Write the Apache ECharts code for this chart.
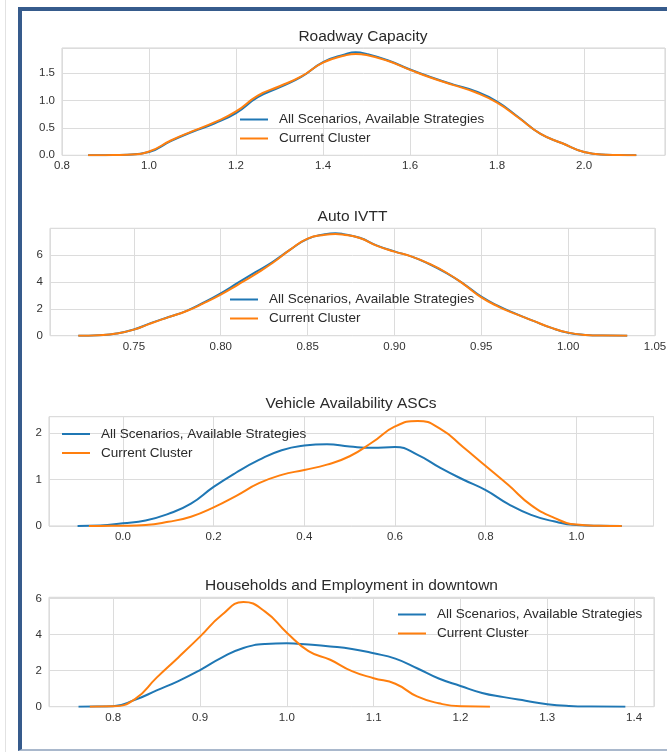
<!DOCTYPE html>
<html>
<head>
<meta charset="utf-8">
<title>Scenario density plots</title>
<script src="https://cdn.jsdelivr.net/npm/echarts@6.0.0/dist/echarts.min.js"></script>
<style>
  html, body { margin: 0; padding: 0; background: #ffffff; overflow: hidden; }
  #sideLine { position: absolute; left: 5px; top: 0; width: 1px; height: 752px; background: #e2e2e2; }
  #frame {
    position: absolute; left: 18px; top: 7px; width: 700px; height: 738px;
    border-left: 4px solid #365b8c; border-top: 4px solid #365b8c;
    border-bottom: 2px solid #a9b8cc; background: #ffffff;
  }
  #chart { position: absolute; left: 0; top: 0; width: 667px; height: 752px; }
</style>
</head>
<body>
<div id="sideLine"></div>
<div id="frame"></div>
<div id="chart"></div>
<script>
// Kernel density estimates, one panel per parameter.
const seriesNames = ['All Scenarios, Available Strategies', 'Current Cluster'];
const panelTitles = ['Roadway Capacity', 'Auto IVTT', 'Vehicle Availability ASCs', 'Households and Employment in downtown'];

// Roadway Capacity
const rcX   = [0.86, 0.90, 0.95, 1.00, 1.05, 1.10, 1.15, 1.20, 1.25, 1.30, 1.35, 1.40, 1.45, 1.475, 1.50, 1.55, 1.60, 1.65, 1.70, 1.75, 1.80, 1.85, 1.90, 1.95, 2.00, 2.05, 2.10, 2.12];
const rcAll = [0, 0.002, 0.01, 0.06, 0.26, 0.43, 0.58, 0.77, 1.06, 1.24, 1.43, 1.70, 1.84, 1.88, 1.85, 1.73, 1.565, 1.42, 1.29, 1.17, 0.98, 0.69, 0.39, 0.22, 0.06, 0.01, 0.002, 0];
const rcCur = [0, 0.002, 0.01, 0.07, 0.27, 0.44, 0.60, 0.80, 1.09, 1.26, 1.44, 1.69, 1.82, 1.85, 1.83, 1.72, 1.56, 1.41, 1.28, 1.15, 0.96, 0.68, 0.39, 0.22, 0.06, 0.01, 0.002, 0];

// Auto IVTT
const ivX   = [0.718, 0.73, 0.74, 0.75, 0.76, 0.77, 0.78, 0.79, 0.80, 0.81, 0.82, 0.83, 0.84, 0.85, 0.86, 0.866, 0.87, 0.88, 0.89, 0.90, 0.91, 0.92, 0.93, 0.94, 0.95, 0.96, 0.97, 0.98, 0.99, 1.00, 1.01, 1.02, 1.034];
const ivAll = [0, 0.04, 0.16, 0.46, 0.95, 1.39, 1.83, 2.45, 3.15, 3.94, 4.72, 5.50, 6.40, 7.20, 7.54, 7.62, 7.57, 7.28, 6.70, 6.27, 5.88, 5.33, 4.65, 3.84, 2.90, 2.20, 1.62, 1.10, 0.60, 0.22, 0.06, 0.01, 0];
const ivCur = [0, 0.04, 0.16, 0.45, 0.93, 1.38, 1.82, 2.40, 3.05, 3.80, 4.58, 5.42, 6.40, 7.22, 7.50, 7.56, 7.52, 7.26, 6.68, 6.25, 5.88, 5.35, 4.68, 3.82, 2.85, 2.15, 1.60, 1.10, 0.60, 0.23, 0.06, 0.01, 0];

// Vehicle Availability ASCs
const vaAllX = [-0.10, -0.05, 0.00, 0.05, 0.10, 0.15, 0.20, 0.25, 0.30, 0.35, 0.40, 0.45, 0.50, 0.55, 0.60, 0.65, 0.70, 0.75, 0.80, 0.85, 0.90, 0.95, 1.00, 1.05, 1.10];
const vaAll  = [0, 0.01, 0.06, 0.12, 0.26, 0.48, 0.84, 1.15, 1.42, 1.63, 1.73, 1.76, 1.71, 1.68, 1.70, 1.53, 1.25, 1.00, 0.77, 0.47, 0.24, 0.10, 0.02, 0.003, 0];
const vaCurX = [-0.075, -0.05, 0.00, 0.05, 0.10, 0.15, 0.20, 0.25, 0.30, 0.35, 0.40, 0.45, 0.50, 0.55, 0.60, 0.65, 0.70, 0.75, 0.80, 0.85, 0.90, 0.95, 1.00, 1.05, 1.10];
const vaCur  = [0, 0.002, 0.005, 0.02, 0.09, 0.20, 0.40, 0.65, 0.92, 1.10, 1.205, 1.32, 1.50, 1.80, 2.14, 2.26, 2.09, 1.70, 1.29, 0.88, 0.45, 0.18, 0.03, 0.005, 0];

// Households and Employment in downtown
const heAllX = [0.76, 0.78, 0.80, 0.825, 0.85, 0.875, 0.90, 0.925, 0.95, 0.975, 1.00, 1.025, 1.05, 1.075, 1.10, 1.125, 1.15, 1.175, 1.20, 1.225, 1.25, 1.275, 1.30, 1.325, 1.35, 1.39];
const heAll  = [0, 0.005, 0.03, 0.38, 0.90, 1.42, 2.03, 2.72, 3.25, 3.47, 3.51, 3.44, 3.34, 3.20, 2.96, 2.66, 2.13, 1.56, 1.15, 0.76, 0.53, 0.33, 0.14, 0.04, 0.008, 0];
const heCurX = [0.773, 0.80, 0.825, 0.85, 0.875, 0.90, 0.925, 0.95, 0.975, 1.00, 1.025, 1.05, 1.075, 1.10, 1.125, 1.15, 1.175, 1.20, 1.234];
const heCur  = [0, 0.02, 0.42, 1.61, 2.73, 3.88, 5.08, 5.80, 5.27, 4.10, 3.08, 2.60, 1.97, 1.58, 1.27, 0.57, 0.19, 0.02, 0];

const FONT = '"Liberation Sans", Arial, sans-serif';
const BLUE = '#1f77b4';
const ORANGE = '#ff7f0e';

function pairs(xs, ys) { return xs.map((x, i) => [x, ys[i]]); }

// label only the round tick values; axis extents stay unlabeled
function tickFormatter(step, digits) {
  return function (v) {
    const k = v / step;
    return Math.abs(k - Math.round(k)) < 1e-6 ? v.toFixed(digits) : '';
  };
}

const panels = [
  { grid: { left: 62, top: 48, width: 603, height: 107.3 },
    x: { min: 0.8, max: 2.186, step: 0.2, digits: 1 },
    y: { max: 1.958, step: 0.5, digits: 1 },
    title: { left: 363, top: 28.5 }, legend: { left: 240, top: 112 },
    all: pairs(rcX, rcAll), cur: pairs(rcX, rcCur) },
  { grid: { left: 50, top: 228.3, width: 605, height: 107.4 },
    x: { min: 0.7017, max: 1.05, step: 0.05, digits: 2 },
    y: { max: 7.985, step: 2, digits: 0 },
    title: { left: 352.5, top: 208.5 }, legend: { left: 230, top: 292 },
    all: pairs(ivX, ivAll), cur: pairs(ivX, ivCur) },
  { grid: { left: 49, top: 416.7, width: 604.5, height: 109.3 },
    x: { min: -0.163, max: 1.17, step: 0.2, digits: 1 },
    y: { max: 2.35, step: 1, digits: 0 },
    title: { left: 351, top: 396 }, legend: { left: 62, top: 426.5 },
    all: pairs(vaAllX, vaAll), cur: pairs(vaCurX, vaCur) },
  { grid: { left: 49, top: 597.3, width: 605, height: 109.4 },
    x: { min: 0.726, max: 1.423, step: 0.1, digits: 1 },
    y: { max: 6.06, step: 2, digits: 0 },
    title: { left: 351.5, top: 577.5 }, legend: { left: 398, top: 607 },
    all: pairs(heAllX, heAll), cur: pairs(heCurX, heCur) }
];

const option = {
  animation: false,
  backgroundColor: 'transparent',
  title: [], legend: [], grid: [], xAxis: [], yAxis: [], series: []
};

panels.forEach((p, i) => {
  option.title.push({
    text: panelTitles[i], left: p.title.left, top: p.title.top, textAlign: 'center', padding: 0,
    textStyle: { fontFamily: FONT, fontSize: 15.5, fontWeight: 'normal', color: '#2a2a2a' }
  });
  option.legend.push({
    data: seriesNames, orient: 'vertical', left: p.legend.left, top: p.legend.top, padding: 0,
    icon: 'rect', itemWidth: 28, itemHeight: 2, itemGap: 4,
    textStyle: { fontFamily: FONT, fontSize: 13.5, color: '#2a2a2a', lineHeight: 15, padding: [0, 0, 0, 6] }
  });
  option.grid.push(Object.assign({
    show: true, borderColor: '#d2d2d2', borderWidth: 1, backgroundColor: 'transparent',
    containLabel: false, outerBoundsMode: 'none'
  }, p.grid));
  const axisText = { fontFamily: FONT, fontSize: 11.5, color: '#333333' };
  option.xAxis.push({
    type: 'value', gridIndex: i, min: p.x.min, max: p.x.max, splitNumber: 7,
    axisLine: { show: false }, axisTick: { show: false },
    splitLine: { show: true, lineStyle: { color: '#dcdcdc', width: 1 } },
    axisLabel: Object.assign({ margin: 5, formatter: tickFormatter(p.x.step, p.x.digits) }, axisText)
  });
  option.yAxis.push({
    type: 'value', gridIndex: i, min: 0, max: p.y.max, interval: p.y.step,
    axisLine: { show: false }, axisTick: { show: false },
    splitLine: { show: true, lineStyle: { color: '#dcdcdc', width: 1 } },
    axisLabel: Object.assign({ margin: 7, formatter: tickFormatter(p.y.step, p.y.digits) }, axisText)
  });
  [[seriesNames[0], p.all, BLUE], [seriesNames[1], p.cur, ORANGE]].forEach(([name, data, color]) => {
    option.series.push({
      name: name, type: 'line', xAxisIndex: i, yAxisIndex: i, data: data,
      showSymbol: false, smooth: 0.5, color: color,
      lineStyle: { color: color, width: 2 }
    });
  });
});

const chart = echarts.init(document.getElementById('chart'), null, { renderer: 'canvas' });
chart.setOption(option);
</script>
</body>
</html>
